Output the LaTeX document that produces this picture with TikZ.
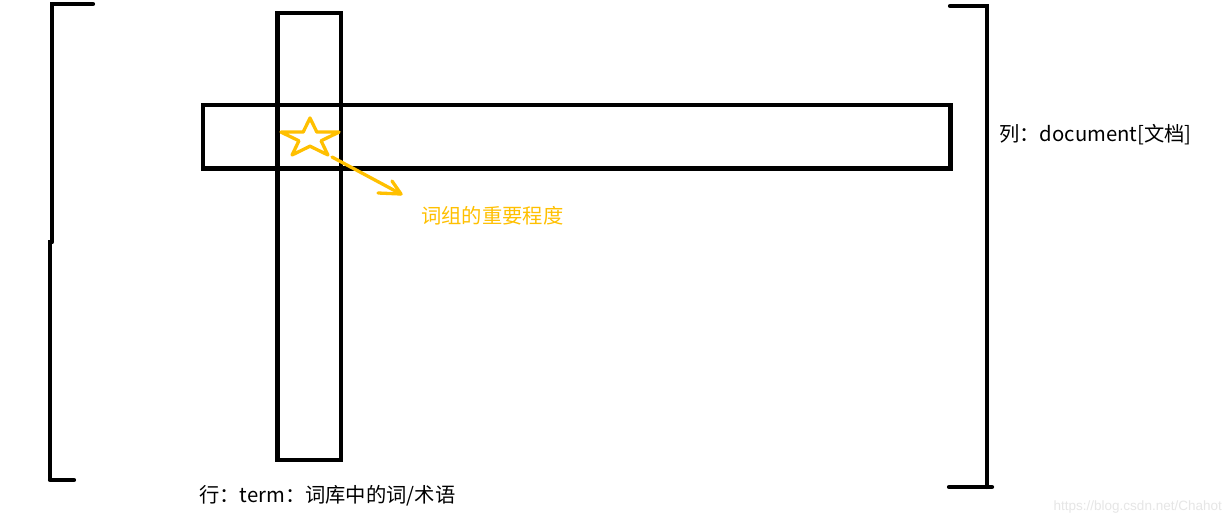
\documentclass[tikz,border=0pt]{standalone}
\usepackage{fontspec}
\setmainfont{Noto Sans CJK SC}
\newfontfamily\wmfont{Liberation Sans}
\definecolor{gold}{HTML}{FFC000}
\definecolor{wm}{HTML}{E6E6E6}
\begin{document}
\begin{tikzpicture}[x=1pt,y=-1pt,
  thick line/.style={line width=4.6pt},
  bracket/.style={line width=4.2pt, line cap=round},
  lbl/.style={anchor=west, inner sep=0pt, font=\fontsize{20.3}{22}\selectfont},
  goldline/.style={draw=gold, line width=3.3pt, line cap=round, line join=round}]
\useasboundingbox[fill=white] (0,0) rectangle (1231,525);
% left bracket
\draw[bracket] (93,4) -- (52,4) -- (52,242);
\draw[bracket, line cap=butt] (50,240) -- (50,480);
\draw[bracket] (50,480) -- (74,480);
% right bracket
\draw[bracket] (950,6) -- (987,6) -- (987,487);
\draw[bracket] (949,487) -- (992,487);
% rectangles
\draw[thick line] (277.5,13) rectangle (341,460);
\draw[thick line] (203,105) rectangle (950.5,168.5);
% star
\begin{scope}[shift={(310,138.4)}, yscale=0.67]
\draw[goldline] (0,-30.5) -- (6.85,-9.43) -- (29,-9.4) -- (11.08,3.6) -- (17.9,24.7)
  -- (0,11.65) -- (-17.9,24.7) -- (-11.08,3.6) -- (-29,-9.4) -- (-6.85,-9.43) -- cycle;
\end{scope}
% arrow
\coordinate (a0) at (332,157);
\coordinate (a1) at (401,194);
\coordinate (h1) at (392,181);
\coordinate (h2) at (378,193);
\draw[goldline] (a0) -- (a1);
\draw[goldline] (h1) -- (a1) -- (h2);
% labels
\node[lbl, text=gold] (imp) at (421,216) {词组的重要程度};
\node[lbl] (col) at (999,135) {列：document[文档]};
\node[lbl] (row) at (199,496) {行：term：词库中的词/术语};
\node[anchor=east, inner sep=0pt, text=wm, font=\wmfont\fontsize{13.5}{15}\selectfont] (wmk) at (1222,507) {https://blog.csdn.net/Chahot};
\end{tikzpicture}
\end{document}
